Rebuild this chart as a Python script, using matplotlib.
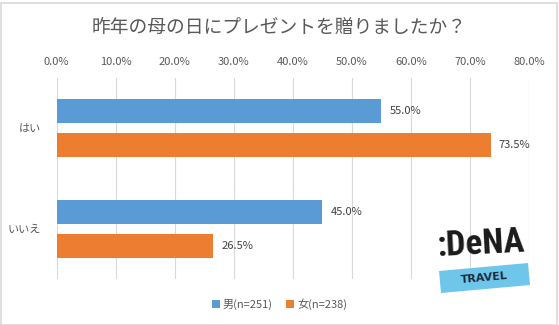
import matplotlib
matplotlib.use("Agg")
import matplotlib.pyplot as plt
from matplotlib import font_manager
from matplotlib.patches import Rectangle, Polygon

plt.rcParams['font.family'] = ['Noto Sans CJK JP', 'DejaVu Sans']

title = "昨年の母の日にプレゼントを贈りましたか？"
categories = ["はい", "いいえ"]
series_names = ["男(n=251)", "女(n=238)"]
male = [55.0, 45.0]
female = [73.5, 26.5]
xticks = [0, 10, 20, 30, 40, 50, 60, 70, 80]
colors = ["#5B9BD5", "#ED7D31"]

W, H = 559, 325
fig = plt.figure(figsize=(W / 100, H / 100), dpi=100)
fig.patch.set_facecolor("white")

# chart border
fig.add_artist(Rectangle((0.5 / W, 0.5 / H), (W - 3) / W, (H - 3) / H,
                         transform=fig.transFigure, fill=False,
                         edgecolor="#d9d9d9", linewidth=1.2))

ax = fig.add_axes([56.5 / W, 1 - 279 / H, (529 - 56.5) / W, (279 - 78) / H])
ax.set_xlim(0, 80)
ax.set_ylim(1.5, -0.5)

off = 0.17
h = 0.24
ypos = list(range(len(categories)))
for vals, sgn, c, name in [(male, -1, colors[0], series_names[0]),
                           (female, 1, colors[1], series_names[1])]:
    ys = [y + sgn * off for y in ypos]
    ax.barh(ys, vals, height=h, color=c, label=name, zorder=3)
    for y, v in zip(ys, vals):
        ax.text(v + 1.4, y, f"{v:.1f}%", va="center", ha="left",
                fontsize=8, color="#404040")

ax.set_xticks(xticks)
ax.set_xticklabels([f"{t:.1f}%" for t in xticks], fontsize=8, color="#595959")
ax.xaxis.tick_top()
ax.tick_params(axis="x", length=0, pad=8)
ax.set_yticks(ypos)
ax.set_yticklabels(categories, fontsize=8, color="#595959")
ax.tick_params(axis="y", length=0, pad=11)
ax.grid(axis="x", color="#d9d9d9", linewidth=0.8, zorder=0)
for s in ax.spines.values():
    s.set_visible(False)

fig.text(0.5, 1 - 27 / H, title, ha="center", va="center",
         fontsize=13.5, color="#595959")

# legend
leg = fig.legend(loc="center", bbox_to_anchor=(0.5, 1 - 304 / H), ncol=2,
                 frameon=False, fontsize=8, handlelength=0.7, handleheight=0.7,
                 handletextpad=0.3, columnspacing=1.2, labelcolor="#595959")

# logo
avail = {f.name for f in font_manager.fontManager.ttflist}
logo_font = "DejaVu Sans"
for cand in ["Liberation Sans Narrow", "DejaVu Sans Condensed", "Roboto Condensed"]:
    if cand in avail:
        logo_font = cand
        break
fig.text(481 / W, 1 - 244 / H, ":DeNA", ha="center", va="center",
         fontsize=25, fontweight="bold", family=logo_font, color="#1a1a1a",
         rotation=3)
band = Polygon([(439 / W, 1 - 271 / H), (528 / W, 1 - 263 / H),
                (530 / W, 1 - 285 / H), (441 / W, 1 - 293 / H)],
               closed=True, transform=fig.transFigure, facecolor="#6EC6EA",
               edgecolor="none")
fig.add_artist(band)
fig.text(484 / W, 1 - 278 / H, "TRAVEL", ha="center", va="center",
         fontsize=8, fontweight="bold", family="DejaVu Sans",
         color="#1c2a3a", rotation=5)

fig.savefig("out.png", dpi=100, facecolor="white")
